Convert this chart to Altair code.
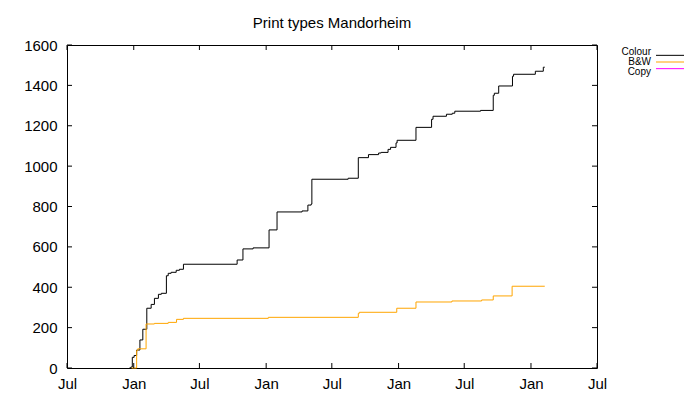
import altair as alt
import pandas as pd

# ---------------- data ----------------
series_names = ["Colour", "B&W", "Copy"]
series_colors = ["#000000", "#ffa500", "#ff00ff"]

colour_dates = ["2016-12-20", "2016-12-24", "2016-12-28", "2017-01-02", "2017-01-09", "2017-01-18",
                "2017-01-26", "2017-02-06", "2017-02-18", "2017-02-27", "2017-03-10", "2017-03-18",
                "2017-04-01", "2017-04-06", "2017-04-14", "2017-04-28", "2017-05-07", "2017-05-18",
                "2017-10-13", "2017-10-29", "2017-11-26", "2018-01-09", "2018-01-31", "2018-04-10",
                "2018-04-26", "2018-05-05", "2018-05-07", "2018-08-15", "2018-09-12", "2018-10-10",
                "2018-11-07", "2018-11-14", "2018-12-03", "2018-12-10", "2018-12-25", "2018-12-28",
                "2019-02-18", "2019-04-02", "2019-04-06", "2019-05-13", "2019-05-29", "2019-06-05",
                "2019-08-15", "2019-09-19", "2019-09-22", "2019-10-04", "2019-11-11", "2019-11-14",
                "2020-01-13", "2020-02-04", "2020-02-08"]
colour_counts = [0, 5, 53, 62, 89, 139, 192, 296, 315, 345, 365, 370, 457, 469, 474, 484, 489, 514,
                 535, 590, 595, 684, 773, 778, 807, 812, 935, 940, 1042, 1057, 1065, 1068, 1083, 1093,
                 1115, 1128, 1192, 1232, 1247, 1257, 1262, 1272, 1276, 1351, 1361, 1397, 1445, 1455,
                 1470, 1490, 1490]

bw_dates = ["2016-12-26", "2017-01-09", "2017-01-12", "2017-02-04", "2017-02-27", "2017-04-06",
            "2017-04-29", "2017-05-18", "2018-01-07", "2018-09-12", "2018-09-15", "2018-12-27",
            "2019-02-18", "2019-05-28", "2019-08-18", "2019-09-19", "2019-11-10", "2020-02-08"]
bw_counts = [0, 86, 95, 218, 221, 226, 241, 246, 251, 271, 276, 296, 327, 332, 337, 357, 405, 405]

copy_dates = []
copy_counts = []

y_ticks = [0, 200, 400, 600, 800, 1000, 1200, 1400, 1600]
x_tick_dates = ["2016-07-01", "2017-01-01", "2017-07-01", "2018-01-01", "2018-07-01",
                "2019-01-01", "2019-07-01", "2020-01-01", "2020-07-01"]


def ms(s):
    return int(pd.Timestamp(s, tz="UTC").value // 10**6)


rows = []
for name, ds, cs in [("Colour", colour_dates, colour_counts),
                     ("B&W", bw_dates, bw_counts),
                     ("Copy", copy_dates, copy_counts)]:
    for d, c in zip(ds, cs):
        rows.append({"date": ms(d), "count": c, "series": name})
df = pd.DataFrame(rows, columns=["date", "count", "series"])

xtick_ms = [ms(d) for d in x_tick_dates]
xdf = pd.DataFrame({"date": xtick_ms})
ydf = pd.DataFrame({"count": y_ticks})
legdf = pd.DataFrame({"series": series_names})

W, H = 530, 323
xdom = [xtick_ms[0], xtick_ms[-1]]
ydom = [y_ticks[0], y_ticks[-1]]
xscale = alt.Scale(type="utc", domain=xdom, nice=False)
yscale = alt.Scale(domain=ydom, nice=False, zero=False)
cscale = alt.Scale(domain=series_names, range=series_colors)

xaxis = alt.Axis(values=xtick_ms, labelExpr="utcFormat(datum.value, '%b')", title=None,
                 ticks=False, tickSize=0, domain=False, grid=False, labelFlush=False,
                 labelOverlap=False, labelPadding=8, labelFontSize=15, labelColor="#000000")

lines = alt.Chart(df).mark_line(interpolate="step-after", strokeWidth=1).encode(
    x=alt.X("date:T", scale=xscale, axis=xaxis),
    y=alt.Y("count:Q", scale=yscale,
            axis=alt.Axis(values=y_ticks, format="d", title=None, ticks=False, tickSize=0,
                          domain=False, grid=False, labelPadding=10, labelFontSize=15,
                          labelColor="#000000")),
    color=alt.Color("series:N", scale=cscale, legend=None),
    detail="series:N",
)

tick_len = 5
left_ticks = alt.Chart(ydf).mark_rule(color="#000000", strokeWidth=1).encode(
    y=alt.Y("count:Q", scale=yscale, axis=None), x=alt.value(0), x2=alt.value(tick_len))
right_ticks = alt.Chart(ydf).mark_rule(color="#000000", strokeWidth=1).encode(
    y=alt.Y("count:Q", scale=yscale, axis=None), x=alt.value(W - tick_len), x2=alt.value(W))
bottom_ticks = alt.Chart(xdf).mark_rule(color="#000000", strokeWidth=1).encode(
    x=alt.X("date:T", scale=xscale, axis=xaxis), y=alt.value(H - tick_len), y2=alt.value(H))
top_ticks = alt.Chart(xdf).mark_rule(color="#000000", strokeWidth=1).encode(
    x=alt.X("date:T", scale=xscale, axis=xaxis), y=alt.value(0), y2=alt.value(tick_len))

legscale = alt.Scale(domain=series_names, range=[7, 27], padding=0)
leg_text = alt.Chart(legdf).mark_text(align="right", baseline="middle", fontSize=10,
                                      color="#000000").encode(
    y=alt.Y("series:N", scale=legscale, axis=None),
    x=alt.value(584),
    text="series:N",
)
leg_line = alt.Chart(legdf).mark_rule(strokeWidth=1).encode(
    y=alt.Y("series:N", scale=legscale, axis=None),
    x=alt.value(589), x2=alt.value(617),
    color=alt.Color("series:N", scale=cscale, legend=None),
)

chart = alt.layer(
    lines, left_ticks, right_ticks, bottom_ticks, top_ticks, leg_line, leg_text
).resolve_scale(
    y="independent"
).properties(
    width=W, height=H,
    title=alt.TitleParams("Print types Mandorheim", fontSize=15, fontWeight="normal",
                          color="#000000", anchor="middle", offset=7),
    autosize=alt.AutoSizeParams(type="none"),
    padding={"left": 59, "top": 37, "right": 95, "bottom": 24},
).configure(
    font="Liberation Sans",
).configure_view(
    stroke="#000000", strokeWidth=1,
)

chart.save("out.html", embed_options={"renderer": "svg", "actions": False})
